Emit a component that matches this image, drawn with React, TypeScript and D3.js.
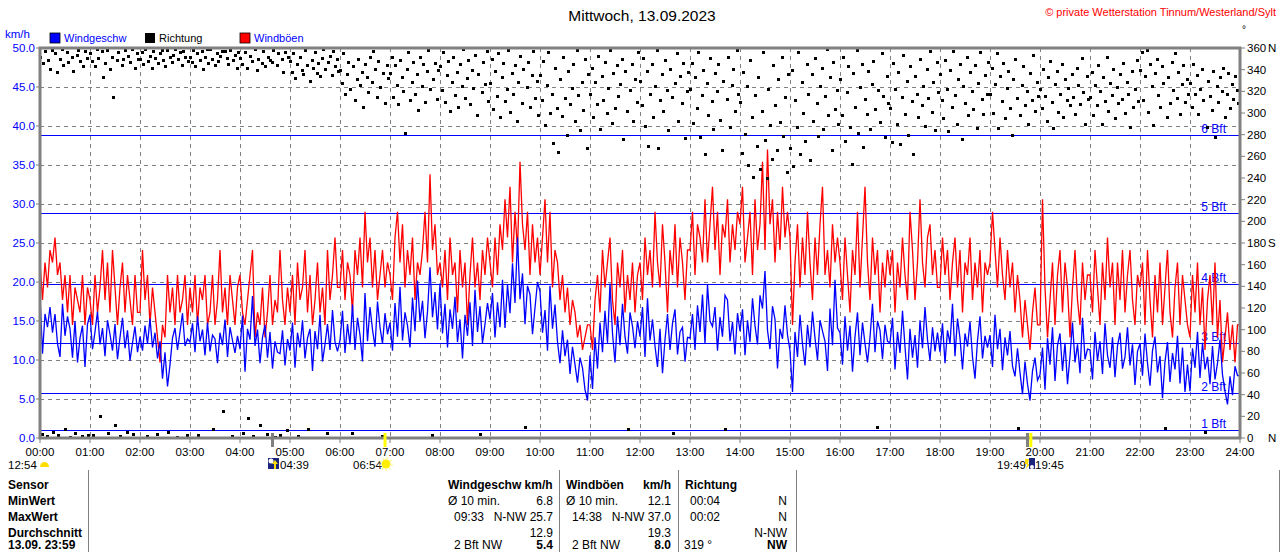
import React, { useEffect } from "react";
import * as d3 from "d3";

// wind speed (km/h), one reading every 3 minutes, 20 per hour
const SPEED = [
  18.2, 10.8, 15.9, 14.2, 16.8, 13.5, 15.9, 12.1, 10.4, 17.2, 13.1, 15.6, 14.0, 10.3, 15.0, 9.7, 12.8, 14.4, 9.1, 14.6,
  15.8, 11.4, 13.6, 16.2, 12.0, 14.1, 10.5, 15.1, 13.3, 11.2, 14.6, 10.1, 12.9, 15.4, 11.5, 13.8, 9.9, 12.2, 14.3, 11.0,
  13.0, 11.2, 14.4, 12.1, 15.3, 11.6, 13.5, 10.2, 12.4, 7.6, 11.0, 6.6, 9.4, 12.8, 14.1, 11.3, 13.6, 16.0, 11.8, 12.7,
  12.3, 14.7, 11.0, 15.6, 12.4, 13.9, 10.6, 14.8, 11.1, 13.2, 12.7, 9.6, 13.5, 11.9, 15.2, 10.4, 14.2, 12.5, 10.9, 13.1,
  11.4, 15.7, 8.5, 14.0, 12.6, 18.2, 11.8, 13.9, 9.6, 12.9, 14.5, 10.3, 13.6, 8.9, 12.4, 11.0, 10.8, 13.8, 9.3, 12.7,
  11.2, 14.8, 9.0, 13.5, 11.6, 15.1, 10.2, 12.8, 14.0, 8.6, 13.7, 11.4, 15.8, 9.8, 12.0, 14.6, 11.3, 16.4, 12.3, 11.1,
  12.5, 16.3, 10.9, 14.6, 12.0, 17.1, 11.3, 15.4, 13.2, 9.8, 18.6, 12.4, 16.8, 13.9, 11.7, 17.5, 14.2, 12.1, 16.0, 13.3,
  14.8, 11.2, 17.3, 13.0, 19.4, 12.5, 16.1, 14.4, 11.6, 18.0, 13.7, 20.2, 14.9, 17.6, 12.8, 16.2, 21.9, 15.5, 18.7, 13.9,
  19.8, 13.4, 17.2, 11.6, 16.5, 14.0, 18.1, 12.3, 15.2, 10.2, 15.8, 13.1, 17.4, 11.8, 19.0, 13.6, 16.9, 12.2, 14.6, 17.3,
  15.2, 18.6, 12.9, 17.4, 14.2, 20.3, 14.1, 19.7, 16.0, 22.4, 17.3, 25.7, 17.8, 21.1, 14.6, 19.5, 18.4, 13.3, 16.7, 20.0,
  18.8, 13.5, 16.4, 11.2, 19.5, 14.0, 17.1, 12.3, 9.6, 13.8, 10.5, 12.6, 8.2, 11.7, 9.4, 7.1, 10.3, 9.0, 6.2, 4.8,
  10.6, 6.3, 12.9, 8.9, 14.8, 11.0, 16.3, 12.2, 19.8, 13.4, 9.7, 15.6, 11.9, 17.2, 13.0, 10.8, 16.1, 14.3, 11.5, 15.0,
  13.0, 16.8, 10.4, 17.9, 12.5, 15.2, 11.8, 9.1, 14.0, 8.3, 12.6, 15.9, 11.3, 14.7, 16.5, 10.7, 13.6, 14.2, 9.8, 12.9,
  12.8, 15.9, 11.3, 17.0, 13.6, 18.4, 12.1, 19.6, 15.0, 14.3, 16.8, 11.2, 15.5, 13.0, 18.3, 17.7, 12.4, 14.9, 10.7, 16.0,
  13.7, 16.5, 10.6, 15.1, 12.3, 17.9, 14.4, 12.0, 18.3, 16.6, 21.4, 13.8, 11.4, 16.9, 15.2, 8.9, 14.0, 12.7, 17.0, 13.2,
  11.2, 5.9, 13.6, 10.4, 15.8, 12.0, 9.3, 14.5, 11.6, 16.2, 12.8, 10.0, 15.1, 13.7, 12.4, 8.6, 16.6, 11.9, 20.3, 14.1,
  13.5, 9.4, 15.6, 11.2, 14.4, 8.5, 13.0, 16.1, 10.6, 14.8, 12.1, 9.7, 12.9, 17.2, 11.0, 15.0, 13.8, 10.1, 14.5, 12.4,
  12.2, 15.4, 8.8, 13.6, 10.9, 16.3, 11.7, 7.5, 14.0, 10.3, 13.2, 9.0, 15.1, 11.5, 16.8, 12.6, 9.9, 14.2, 11.1, 13.5,
  11.0, 14.7, 9.6, 13.8, 12.1, 17.2, 10.5, 15.3, 12.8, 8.8, 13.4, 11.7, 14.9, 10.4, 7.6, 12.5, 15.6, 10.2, 13.1, 11.6,
  13.2, 9.1, 15.8, 11.4, 14.0, 8.7, 12.9, 10.6, 13.7, 9.2, 7.9, 11.5, 8.4, 5.6, 9.8, 6.9, 4.8, 8.6, 10.3, 7.4,
  8.1, 11.6, 6.2, 12.8, 9.4, 14.2, 7.3, 11.9, 13.4, 8.6, 12.2, 6.9, 10.5, 14.8, 9.7, 12.0, 8.3, 15.4, 10.1, 11.4,
  11.3, 7.5, 13.6, 9.9, 12.4, 8.2, 14.7, 10.6, 9.0, 12.9, 7.8, 11.8, 13.5, 8.9, 10.4, 14.2, 9.3, 12.0, 6.8, 11.1,
  12.1, 8.0, 13.4, 9.6, 6.7, 11.2, 13.0, 8.4, 10.5, 5.1, 9.8, 12.3, 7.2, 10.9, 8.8, 13.1, 7.0, 11.6, 5.9, 9.4,
  6.0, 11.5, 9.0, 13.6, 7.7, 12.2, 8.8, 10.4, 6.9, 11.8, 7.5, 9.6, 12.6, 8.1, 6.0, 4.3, 7.9, 5.5, 9.2, 8.0,
];

// gusts (km/h), every 3 minutes
const GUST = [
  22.5, 17.7, 22.5, 19.3, 24.1, 22.5, 25.7, 20.9, 22.5, 17.7, 20.9, 16.1, 20.9, 14.5, 19.3, 17.7, 16.1, 20.9, 14.5, 19.3,
  17.7, 14.5, 20.9, 16.1, 19.3, 24.1, 17.7, 22.5, 16.1, 24.1, 19.3, 14.5, 19.3, 22.5, 16.1, 20.9, 17.7, 14.5, 20.9, 16.1,
  16.1, 24.1, 17.7, 20.9, 14.5, 19.3, 16.1, 12.9, 9.7, 14.5, 12.9, 20.9, 16.1, 19.3, 14.5, 20.9, 16.1, 17.7, 20.9, 14.5,
  19.3, 16.1, 20.9, 14.5, 19.3, 17.7, 20.9, 14.5, 16.1, 20.9, 14.5, 17.7, 24.1, 16.1, 19.3, 14.5, 20.9, 17.7, 14.5, 19.3,
  20.9, 16.1, 14.5, 17.7, 20.9, 24.1, 12.9, 16.1, 14.5, 19.3, 12.9, 16.1, 20.9, 14.5, 17.7, 16.1, 24.1, 17.7, 14.5, 19.3,
  16.1, 20.9, 14.5, 22.5, 17.7, 19.3, 24.1, 16.1, 20.9, 14.5, 17.7, 22.5, 16.1, 19.3, 14.5, 24.1, 17.7, 20.9, 25.7, 19.3,
  19.3, 24.1, 17.7, 22.5, 20.9, 16.1, 24.1, 20.9, 25.7, 19.3, 29.0, 22.5, 25.7, 19.3, 24.1, 17.7, 20.9, 24.1, 19.3, 22.5,
  20.9, 17.7, 25.7, 29.0, 22.5, 27.4, 19.3, 24.1, 20.9, 25.7, 17.7, 22.5, 20.9, 24.1, 29.0, 22.5, 33.8, 24.1, 27.4, 20.9,
  22.5, 19.3, 24.1, 17.7, 25.7, 20.9, 22.5, 16.1, 24.1, 19.3, 22.5, 14.5, 20.9, 25.7, 19.3, 22.5, 17.7, 24.1, 20.9, 25.7,
  22.5, 19.3, 25.7, 20.9, 27.4, 24.1, 30.6, 25.7, 32.2, 22.5, 29.0, 24.1, 35.4, 27.4, 24.1, 29.0, 20.9, 27.4, 22.5, 25.7,
  20.9, 25.7, 30.6, 22.5, 29.0, 19.3, 24.1, 22.5, 17.7, 20.9, 16.1, 19.3, 14.5, 17.7, 16.1, 12.9, 14.5, 11.3, 12.9, 14.5,
  14.5, 11.3, 17.7, 20.9, 16.1, 24.1, 19.3, 22.5, 25.7, 17.7, 14.5, 22.5, 19.3, 24.1, 16.1, 20.9, 17.7, 22.5, 16.1, 20.9,
  22.5, 17.7, 25.7, 20.9, 24.1, 19.3, 29.0, 22.5, 19.3, 27.4, 22.5, 16.1, 24.1, 20.9, 27.4, 19.3, 25.7, 22.5, 17.7, 24.1,
  24.1, 29.0, 20.9, 27.4, 25.7, 22.5, 30.6, 22.5, 27.4, 32.2, 24.1, 29.0, 20.9, 27.4, 25.7, 30.6, 22.5, 27.4, 24.1, 29.0,
  27.4, 32.2, 22.5, 25.7, 29.0, 20.9, 30.6, 24.1, 27.4, 35.4, 24.1, 37.0, 27.4, 30.6, 22.5, 29.0, 24.1, 32.2, 25.7, 29.0,
  25.7, 14.5, 22.5, 27.4, 19.3, 25.7, 20.9, 29.0, 22.5, 17.7, 25.7, 20.9, 27.4, 32.2, 20.9, 24.1, 19.3, 27.4, 22.5, 25.7,
  22.5, 17.7, 25.7, 20.9, 16.1, 24.1, 20.9, 29.0, 19.3, 25.7, 32.2, 22.5, 17.7, 25.7, 20.9, 24.1, 16.1, 22.5, 19.3, 24.1,
  20.9, 24.1, 16.1, 22.5, 19.3, 25.7, 20.9, 17.7, 29.0, 24.1, 17.7, 22.5, 30.6, 22.5, 19.3, 25.7, 27.4, 20.9, 24.1, 19.3,
  19.3, 25.7, 20.9, 24.1, 17.7, 22.5, 25.7, 19.3, 24.1, 16.1, 22.5, 20.9, 25.7, 17.7, 22.5, 19.3, 24.1, 16.1, 22.5, 20.9,
  22.5, 29.0, 24.1, 19.3, 25.7, 20.9, 17.7, 24.1, 19.3, 22.5, 16.1, 20.9, 17.7, 12.9, 17.7, 14.5, 11.3, 16.1, 19.3, 14.5,
  14.5, 30.6, 19.3, 12.9, 17.7, 22.5, 14.5, 20.9, 24.1, 16.1, 22.5, 19.3, 12.9, 19.3, 24.1, 17.7, 14.5, 22.5, 17.7, 20.9,
  20.9, 16.1, 24.1, 19.3, 14.5, 22.5, 17.7, 25.7, 19.3, 22.5, 14.5, 22.5, 17.7, 24.1, 16.1, 20.9, 24.1, 17.7, 14.5, 20.9,
  19.3, 22.5, 14.5, 24.1, 17.7, 12.9, 20.9, 16.1, 22.5, 14.5, 19.3, 24.1, 16.1, 12.9, 19.3, 22.5, 14.5, 20.9, 17.7, 14.5,
  12.9, 20.9, 16.1, 22.5, 14.5, 19.3, 11.3, 17.7, 20.9, 14.5, 22.5, 12.9, 17.7, 9.7, 12.9, 16.1, 11.3, 14.5, 9.7, 14.5,
];

// wind direction (degrees), every 2 minutes, 30 per hour
const DIRECTION = [
  352, 4, 346, 357, 2, 349, 341, 358, 6, 355, 338, 3, 350, 359, 344, 8, 356, 347, 1, 352, 339, 5, 354, 358, 348, 2, 343, 357, 351, 3,
  355, 348, 3, 343, 359, 351, 20, 357, 333, 346, 358, 5, 341, 352, 315, 12, 349, 356, 2, 344, 350, 358, 6, 353, 347, 359, 4, 342, 355, 350,
  350, 356, 345, 359, 2, 348, 353, 342, 357, 351, 4, 346, 355, 358, 349, 343, 358, 6, 352, 347, 354, 359, 1, 350, 356, 344, 357, 352, 3, 348,
  352, 347, 358, 343, 355, 3, 349, 357, 341, 352, 359, 346, 359, 350, 8, 344, 355, 348, 353, 357, 25, 357, 351, 345, 358, 2, 349, 354, 342, 356,
  351, 345, 5, 356, 342, 18, 353, 348, 2, 359, 340, 350, 12, 346, 357, 343, 4, 352, 349, 347, 358, 1, 344, 355, 3, 350, 338, 356, 7, 352,
  348, 338, 355, 332, 345, 2, 352, 340, 336, 358, 344, 8, 330, 349, 342, 356, 337, 346, 334, 351, 359, 341, 5, 347, 353, 335, 357, 343, 350, 339,
  340, 328, 355, 318, 336, 347, 322, 5, 343, 312, 331, 350, 326, 338, 306, 345, 333, 319, 352, 329, 357, 341, 315, 348, 324, 2, 337, 309, 344, 332,
  337, 352, 315, 344, 326, 308, 349, 333, 320, 282, 341, 356, 312, 329, 347, 318, 336, 303, 352, 325, 345, 310, 339, 358, 322, 3, 331, 346, 313, 340,
  343, 321, 356, 310, 335, 348, 302, 329, 352, 317, 338, 306, 345, 325, 359, 314, 332, 349, 308, 340, 323, 354, 298, 336, 4, 319, 347, 327, 357, 311,
  328, 350, 304, 339, 316, 355, 296, 333, 346, 311, 322, 358, 301, 337, 318, 344, 293, 329, 353, 309, 341, 10, 324, 347, 306, 335, 357, 314, 330, 298,
  335, 312, 348, 289, 326, 356, 300, 318, 272, 342, 305, 264, 331, 297, 352, 314, 280, 339, 308, 323, 345, 293, 358, 317, 284, 329, 303, 350, 268, 336,
  318, 342, 296, 329, 308, 353, 285, 334, 312, 347, 300, 323, 358, 291, 337, 305, 344, 316, 327, 350, 276, 339, 302, 8, 321, 345, 293, 331, 310, 356,
  330, 307, 351, 288, 339, 270, 318, 345, 296, 325, 358, 268, 312, 336, 302, 349, 321, 284, 341, 315, 5, 328, 355, 293, 334, 309, 346, 277, 320, 338,
  322, 346, 291, 333, 305, 356, 278, 317, 340, 262, 328, 298, 351, 311, 285, 337, 320, 345, 294, 266, 330, 8, 313, 352, 287, 326, 341, 302, 358, 318,
  310, 263, 338, 281, 325, 252, 349, 296, 241, 317, 270, 333, 248, 302, 356, 275, 240, 322, 289, 258, 344, 307, 266, 331, 292, 352, 279, 315, 246, 336,
  268, 340, 251, 312, 287, 356, 262, 329, 300, 274, 345, 318, 257, 336, 293, 351, 309, 279, 325, 342, 285, 316, 359, 298, 333, 266, 347, 304, 321, 290,
  331, 298, 352, 274, 319, 343, 287, 253, 337, 306, 358, 282, 324, 345, 269, 313, 299, 339, 285, 327, 348, 304, 10, 321, 292, 355, 316, 278, 334, 309,
  305, 273, 346, 322, 290, 338, 271, 315, 354, 299, 330, 280, 343, 311, 262, 334, 318, 296, 350, 307, 325, 288, 341, 314, 357, 301, 329, 284, 347, 319,
  336, 312, 295, 349, 322, 283, 340, 306, 357, 317, 290, 331, 345, 276, 325, 309, 352, 298, 338, 320, 304, 344, 286, 328, 356, 313, 299, 335, 318, 347,
  318, 342, 300, 327, 355, 286, 334, 311, 346, 295, 323, 339, 305, 280, 331, 350, 314, 9, 298, 326, 343, 307, 320, 290, 337, 312, 354, 302, 329, 316,
  322, 305, 341, 316, 293, 333, 348, 310, 286, 327, 339, 301, 318, 345, 296, 331, 312, 323, 307, 336, 315, 299, 342, 326, 308, 351, 319, 290, 334, 313,
  315, 338, 298, 326, 307, 344, 320, 290, 333, 311, 352, 302, 328, 317, 341, 295, 324, 309, 336, 313, 346, 300, 329, 318, 287, 339, 306, 322, 349, 311,
  340, 356, 312, 334, 358, 301, 345, 325, 289, 337, 350, 317, 306, 343, 328, 9, 296, 333, 309, 347, 321, 355, 314, 338, 299, 327, 344, 310, 331, 318,
  328, 306, 345, 318, 335, 299, 322, 341, 312, 6, 287, 330, 316, 303, 339, 278, 325, 310, 333, 320, 342, 296, 318, 337, 305, 327, 313, 334, 321, 309,
];

const KMH_TICKS = [0, 5, 10, 15, 20, 25, 30, 35, 40, 45, 50];
const DIR_TICKS = [0, 20, 40, 60, 80, 100, 120, 140, 160, 180, 200, 220, 240, 260, 280, 300, 320, 340, 360];
const DIR_NAMES: Record<number, string> = { 0: "N", 180: "S", 360: "N" };
const HOUR_TICKS = d3.range(0, 25);

const BFT_LEVELS = [1.08, 5.76, 12.24, 19.8, 28.8, 38.88];
const BFT_LABELS = ["1 Bft", "2 Bft", "3 Bft", "4 Bft", "5 Bft", "6 Bft"];

// sun / moon events below the time axis
const EVENTS = [
  { label: "04:39", minute: 279, color: "#808080" },
  { label: "06:54", minute: 414, color: "#ffff00" },
  { label: "19:45", minute: 1185, color: "#808080" },
  { label: "19:49", minute: 1189, color: "#ffff00" },
];

const SENSOR_ROWS = ["Sensor", "MinWert", "MaxWert", "Durchschnitt", "13.09. 23:59"];
const SPEED_COL = [["Ø 10 min.", "6.8"], ["09:33", "N-NW 25.7"], ["", "12.9"], ["2 Bft NW", "5.4"]];
const GUST_COL = [["Ø 10 min.", "12.1"], ["14:38", "N-NW 37.0"], ["", "19.3"], ["2 Bft NW", "8.0"]];
const DIR_COL = [["00:04", "N"], ["00:02", "N"], ["", "N-NW"], ["319 °", "NW"]];

const W = 1280;
const H = 552;
const plot = { left: 40, right: 1240, top: 48, bottom: 438 };
const FONT = "'Liberation Sans', Arial, sans-serif";
const GRID = "#808080";

export default function App() {
  useEffect(() => {
    document.body.style.margin = "0";
  }, []);

  const x = d3.scaleLinear().domain([0, 1440]).range([plot.left, plot.right]);
  const y = d3.scaleLinear().domain([0, 50]).range([plot.bottom, plot.top]);
  const yDir = d3.scaleLinear().domain([0, 360]).range([plot.bottom, plot.top]);

  const lineOf = (step: number) =>
    d3
      .line<number>()
      .x((_, i) => x(i * step))
      .y((d) => y(d));

  const gustPath = lineOf(3)(GUST.concat([GUST[GUST.length - 1]])) ?? "";
  const speedPath = lineOf(3)(SPEED.concat([SPEED[SPEED.length - 1]])) ?? "";

  const hhmm = (h: number) => `${String(h).padStart(2, "0")}:00`;

  const rowY = [489, 505, 521, 537, 549];

  return (
    <svg
      width={W}
      height={H}
      style={{ position: "absolute", left: 0, top: 0, background: "#fff" }}
      fontFamily={FONT}
    >
      <rect width={W} height={H} fill="#fff" />

      {/* title */}
      <text x={642} y={21} textAnchor="middle" fontSize={15.5} fill="#000">
        Mittwoch, 13.09.2023
      </text>
      <text x={1276} y={16} textAnchor="end" fontSize={11} fill="#ff0000">
        © private Wetterstation Tinnum/Westerland/Sylt
      </text>
      <text x={1242} y={33} fontSize={10} fill="#000">°</text>

      {/* legend */}
      <text x={5} y={38} fontSize={11.5} fill="#0000ff">km/h</text>
      <rect x={50} y={33} width={10} height={10} fill="#0000ff" stroke="#000" strokeWidth={0.8} />
      <text x={64} y={42} fontSize={11} fill="#0000ff">Windgeschw</text>
      <rect x={145} y={33} width={10} height={10} fill="#000" />
      <text x={159} y={42} fontSize={11} fill="#000">Richtung</text>
      <rect x={240} y={33} width={10} height={10} fill="#ff0000" stroke="#000" strokeWidth={0.8} />
      <text x={254} y={42} fontSize={11} fill="#0000ff">Windböen</text>

      {/* grid */}
      <g stroke={GRID} strokeWidth={1} strokeDasharray="4,4" shapeRendering="crispEdges">
        {KMH_TICKS.slice(1, -1).map((t) => (
          <line key={`h${t}`} x1={plot.left} x2={plot.right} y1={Math.round(y(t)) + 0.5} y2={Math.round(y(t)) + 0.5} />
        ))}
        {HOUR_TICKS.slice(1, -1).map((h) => (
          <line key={`v${h}`} x1={x(h * 60) + 0.5} x2={x(h * 60) + 0.5} y1={plot.top} y2={plot.bottom} />
        ))}
      </g>

      {/* Beaufort thresholds */}
      <g shapeRendering="crispEdges">
        {BFT_LEVELS.map((b, i) => (
          <g key={b}>
            <line x1={plot.left} x2={plot.right} y1={Math.round(y(b)) + 0.5} y2={Math.round(y(b)) + 0.5} stroke="#0000ff" strokeWidth={1.2} />
            <text x={1226} y={Math.round(y(b)) - 2} textAnchor="end" fontSize={12} fill="#0000ff">
              {BFT_LABELS[i]}
            </text>
          </g>
        ))}
      </g>

      {/* series */}
      <path d={gustPath} fill="none" stroke="#ff0000" strokeWidth={1.3} strokeLinejoin="miter" />
      <path d={speedPath} fill="none" stroke="#0000ff" strokeWidth={1.3} strokeLinejoin="miter" />

      {/* direction dots */}
      <g fill="#000">
        {DIRECTION.map((d, i) => (
          <rect key={i} x={Math.round(x(i * 2)) - 1} y={Math.round(yDir(d)) - 1} width={3} height={3} />
        ))}
      </g>

      {/* frame */}
      <rect
        x={plot.left}
        y={plot.top}
        width={plot.right - plot.left}
        height={plot.bottom - plot.top}
        fill="none"
        stroke={GRID}
        strokeWidth={3}
      />

      {/* left axis */}
      {KMH_TICKS.map((t) => (
        <g key={`l${t}`}>
          <line x1={plot.left - 4} x2={plot.left} y1={y(t)} y2={y(t)} stroke={GRID} />
          <text x={35} y={y(t) + 4} textAnchor="end" fontSize={11.5} fill="#0000ff">
            {t.toFixed(1)}
          </text>
        </g>
      ))}

      {/* right axis */}
      {DIR_TICKS.map((t) => (
        <g key={`r${t}`}>
          <line x1={plot.right} x2={plot.right + 5} y1={yDir(t)} y2={yDir(t)} stroke={GRID} />
          <text x={1247} y={yDir(t) + 4} fontSize={11.5} fill="#000">
            {t}
          </text>
          {DIR_NAMES[t] && (
            <text x={1268} y={yDir(t) + 4} fontSize={11.5} fill="#000">
              {DIR_NAMES[t]}
            </text>
          )}
        </g>
      ))}

      {/* time axis */}
      {HOUR_TICKS.map((h) => (
        <g key={`t${h}`}>
          <line x1={x(h * 60)} x2={x(h * 60)} y1={plot.bottom} y2={plot.bottom + 5} stroke={GRID} />
          <text x={x(h * 60)} y={456} textAnchor="middle" fontSize={11.5} fill="#000">
            {hhmm(h)}
          </text>
        </g>
      ))}

      {/* sun and moon marks */}
      {EVENTS.map((e) => (
        <line
          key={e.label}
          x1={x(e.minute)}
          x2={x(e.minute)}
          y1={433}
          y2={447}
          stroke={e.color}
          strokeWidth={3}
        />
      ))}
      <g fontSize={11.5} fill="#000">
        <text x={8} y={469}>12:54</text>
        <text x={280} y={469}>04:39</text>
        <text x={353} y={469}>06:54</text>
        <text x={997} y={469}>19:49</text>
        <text x={1035} y={469}>19:45</text>
      </g>
      <path d="M40,467 A4.5,5 0 0 1 49,467 Z" fill="#ffdd00" />
      <rect x={268} y={458} width={11} height={11} fill="#1a237e" />
      <circle cx={271} cy={461} r={2.5} fill="#fff" />
      <path d="M274,469 L274,464 L272,464 L275,460 L278,464 L276,464 L276,469 Z" fill="#ffdd00" />
      <circle cx={386} cy={464} r={4.5} fill="#ffee00" />
      <circle cx={386} cy={464} r={6} fill="none" stroke="#fff59d" strokeWidth={1.5} strokeDasharray="2,2" />
      <path d="M1025,459 L1029,459 L1028,464 L1030,464 L1026,469 L1027,464 L1025,464 Z" fill="#ffdd00" />
      <rect x={1029} y={458} width={6} height={11} fill="#1a237e" />
      <circle cx={1032} cy={467} r={2} fill="#fff" />

      {/* statistics table */}
      <g stroke={GRID} strokeWidth={1} shapeRendering="crispEdges">
        {[88, 559, 678, 796, 1279].map((lx) => (
          <line key={lx} x1={lx + 0.5} x2={lx + 0.5} y1={470} y2={H} />
        ))}
      </g>
      <g fontSize={12} fill="#000">
        {SENSOR_ROWS.map((s, i) => (
          <text key={s} x={8} y={rowY[i]} fontWeight="bold">
            {s}
          </text>
        ))}

        <text x={448} y={rowY[0]} fontWeight="bold">Windgeschw km/h</text>
        {SPEED_COL.map(([a, b], i) => (
          <g key={`s${i}`}>
            <text x={i === 0 ? 448 : 454} y={rowY[i + 1]}>{a}</text>
            <text x={553} y={rowY[i + 1]} textAnchor="end" fontWeight={i === 3 ? "bold" : "normal"}>
              {b}
            </text>
          </g>
        ))}

        <text x={566} y={rowY[0]} fontWeight="bold">Windböen</text>
        <text x={671} y={rowY[0]} textAnchor="end" fontWeight="bold">km/h</text>
        {GUST_COL.map(([a, b], i) => (
          <g key={`g${i}`}>
            <text x={i === 0 ? 566 : 572} y={rowY[i + 1]}>{a}</text>
            <text x={671} y={rowY[i + 1]} textAnchor="end" fontWeight={i === 3 ? "bold" : "normal"}>
              {b}
            </text>
          </g>
        ))}

        <text x={685} y={rowY[0]} fontWeight="bold">Richtung</text>
        {DIR_COL.map(([a, b], i) => (
          <g key={`d${i}`}>
            <text x={i === 3 ? 684 : 690} y={rowY[i + 1]}>{a}</text>
            <text x={787} y={rowY[i + 1]} textAnchor="end" fontWeight={i === 3 ? "bold" : "normal"}>
              {b}
            </text>
          </g>
        ))}
      </g>
    </svg>
  );
}
